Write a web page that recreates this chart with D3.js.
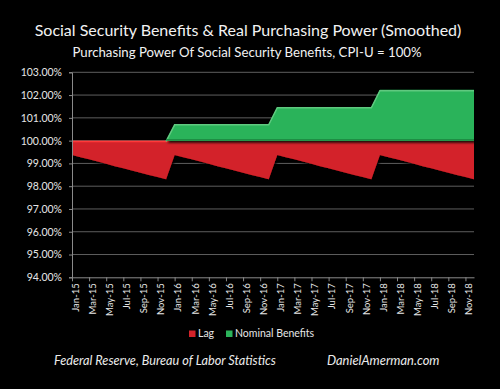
<!DOCTYPE html>
<html>
<head>
<meta charset="utf-8">
<script src="https://cdnjs.cloudflare.com/ajax/libs/d3/7.8.5/d3.min.js"></script>
<style>
  html, body { margin: 0; padding: 0; background: #000; }
  svg { display: block; }
</style>
</head>
<body>
<svg id="chart" width="500" height="389"></svg>
<script>
const months = ["Jan-15","Feb-15","Mar-15","Apr-15","May-15","Jun-15","Jul-15","Aug-15","Sep-15","Oct-15","Nov-15","Dec-15",
  "Jan-16","Feb-16","Mar-16","Apr-16","May-16","Jun-16","Jul-16","Aug-16","Sep-16","Oct-16","Nov-16","Dec-16",
  "Jan-17","Feb-17","Mar-17","Apr-17","May-17","Jun-17","Jul-17","Aug-17","Sep-17","Oct-17","Nov-17","Dec-17",
  "Jan-18","Feb-18","Mar-18","Apr-18","May-18","Jun-18","Jul-18","Aug-18","Sep-18","Oct-18","Nov-18","Dec-18"];

// Real purchasing power (bottom of the red "Lag" band), percent
const realPower = [
  99.37, 99.27, 99.18, 99.08, 98.98, 98.88, 98.79, 98.69, 98.59, 98.49, 98.40, 98.30,
  99.37, 99.27, 99.18, 99.08, 98.98, 98.88, 98.79, 98.69, 98.59, 98.49, 98.40, 98.30,
  99.37, 99.27, 99.18, 99.08, 98.98, 98.88, 98.79, 98.69, 98.59, 98.49, 98.40, 98.30,
  99.37, 99.27, 99.18, 99.08, 98.98, 98.88, 98.79, 98.69, 98.59, 98.49, 98.40, 98.30];

// Nominal benefits (top of the green band), percent
const nominal = [
  100.00, 100.00, 100.00, 100.00, 100.00, 100.00, 100.00, 100.00, 100.00, 100.00, 100.00, 100.00,
  100.73, 100.73, 100.73, 100.73, 100.73, 100.73, 100.73, 100.73, 100.73, 100.73, 100.73, 100.73,
  101.48, 101.48, 101.48, 101.48, 101.48, 101.48, 101.48, 101.48, 101.48, 101.48, 101.48, 101.48,
  102.23, 102.23, 102.23, 102.23, 102.23, 102.23, 102.23, 102.23, 102.23, 102.23, 102.23, 102.23];

const baseline = 100;
const yTicks = [94, 95, 96, 97, 98, 99, 100, 101, 102, 103];
const xTickLabels = months.filter((m, i) => i % 2 === 0);

const titleText = "Social Security Benefits & Real Purchasing Power (Smoothed)";
const subtitleText = "Purchasing Power Of Social Security Benefits, CPI-U = 100%";
const legendItems = [{name: "Lag", color: "#d3232a"}, {name: "Nominal Benefits", color: "#2bb35a"}];
const sourceText = "Federal Reserve, Bureau of Labor Statistics";
const siteText = "DanielAmerman.com";

const svg = d3.select("#chart");
const font = "Lato, 'Open Sans', sans-serif";

const plotLeft = 72, plotRight = 474, plotTop = 72.3, plotBottom = 277.3;

const x = d3.scalePoint().domain(months).range([plotLeft, plotRight]);
const y = d3.scaleLinear().domain([94, 103]).range([plotBottom, plotTop]);

const defs = svg.append("defs");
const f = defs.append("filter").attr("id", "shadow").attr("x", "-5%").attr("y", "-10%").attr("width", "110%").attr("height", "130%");
f.append("feDropShadow").attr("dx", 1.5).attr("dy", 2).attr("stdDeviation", 1.2).attr("flood-color", "#000").attr("flood-opacity", 0.9);

// gridlines
svg.append("g").selectAll("line").data(yTicks.filter(t => t !== 94)).join("line")
  .attr("x1", plotLeft).attr("x2", plotRight)
  .attr("y1", d => y(d)).attr("y2", d => y(d))
  .attr("stroke", "#5e5e5e").attr("stroke-width", 1);

const data = months.map((m, i) => ({m, real: realPower[i], nom: nominal[i]}));

// Lag area (red)
const lagArea = d3.area().x(d => x(d.m)).y0(d => y(d.real)).y1(() => y(baseline));
svg.append("path").datum(data).attr("d", lagArea).attr("fill", "#d3232a").attr("filter", "url(#shadow)");
svg.append("line").attr("x1", plotLeft).attr("x2", plotRight).attr("y1", y(baseline) + 0.8).attr("y2", y(baseline) + 0.8)
  .attr("stroke", "#ff3a3a").attr("stroke-width", 1.6);

// Nominal benefits area (green)
const nomArea = d3.area().x(d => x(d.m)).y0(() => y(baseline)).y1(d => y(d.nom));
svg.append("path").datum(data).attr("d", nomArea).attr("fill", "#2bb35a").attr("filter", "url(#shadow)");
const nomLine = d3.line().x(d => x(d.m)).y(d => y(d.nom) + 0.8);
svg.append("path").datum(data.slice(11)).attr("d", nomLine).attr("fill", "none")
  .attr("stroke", "#5fc97f").attr("stroke-width", 1.5);
svg.append("line").attr("x1", x("Dec-15")).attr("x2", plotRight).attr("y1", y(baseline) - 1).attr("y2", y(baseline) - 1)
  .attr("stroke", "#1e8d44").attr("stroke-width", 1.5);

// axes
const yAxis = d3.axisLeft(y).tickValues(yTicks).tickFormat(d => d.toFixed(2) + "%").tickSize(3).tickPadding(7);
const gy = svg.append("g").attr("transform", `translate(${plotLeft},0)`).call(yAxis);
gy.select(".domain").attr("stroke", "#8a8a8a");
gy.selectAll(".tick line").attr("stroke", "#8a8a8a");
gy.selectAll("text").attr("fill", "#e6e6e6").style("font-family", font).style("font-size", "10.5px");

const xAxis = d3.axisBottom(x).tickValues(xTickLabels).tickSize(4).tickSizeOuter(0);
const gx = svg.append("g").attr("transform", `translate(0,${plotBottom})`).call(xAxis);
gx.select(".domain").attr("stroke", "#8a8a8a");
gx.selectAll(".tick line").attr("stroke", "#8a8a8a");
gx.selectAll("text")
  .attr("transform", "rotate(-90)")
  .attr("x", -6).attr("y", 3).attr("dy", "0.35em")
  .attr("text-anchor", "end")
  .attr("fill", "#e6e6e6").style("font-family", font).style("font-size", "9.5px");

// titles
svg.append("text").attr("x", 248).attr("y", 36).attr("text-anchor", "middle")
  .attr("fill", "#f2f2f2").style("font-family", font).style("font-size", "16px").text(titleText);
svg.append("text").attr("x", 247).attr("y", 57).attr("text-anchor", "middle")
  .attr("fill", "#f2f2f2").style("font-family", font).style("font-size", "13.2px").text(subtitleText);

// legend
const legendPos = [189, 226];
const lg = svg.append("g");
legendItems.forEach((it, i) => {
  lg.append("rect").attr("x", legendPos[i]).attr("y", 330.5).attr("width", 6.5).attr("height", 6.5).attr("fill", it.color);
  lg.append("text").attr("x", legendPos[i] + 9).attr("y", 337).attr("fill", "#e6e6e6")
    .style("font-family", font).style("font-size", "10.5px").text(it.name);
});

// footer
svg.append("text").attr("x", 54).attr("y", 365).attr("fill", "#ececec")
  .style("font-family", font).style("font-size", "12.7px").style("font-style", "italic").text(sourceText);
svg.append("text").attr("x", 327).attr("y", 365).attr("fill", "#ececec")
  .style("font-family", font).style("font-size", "12.9px").style("font-style", "italic").text(siteText);
</script>
</body>
</html>
